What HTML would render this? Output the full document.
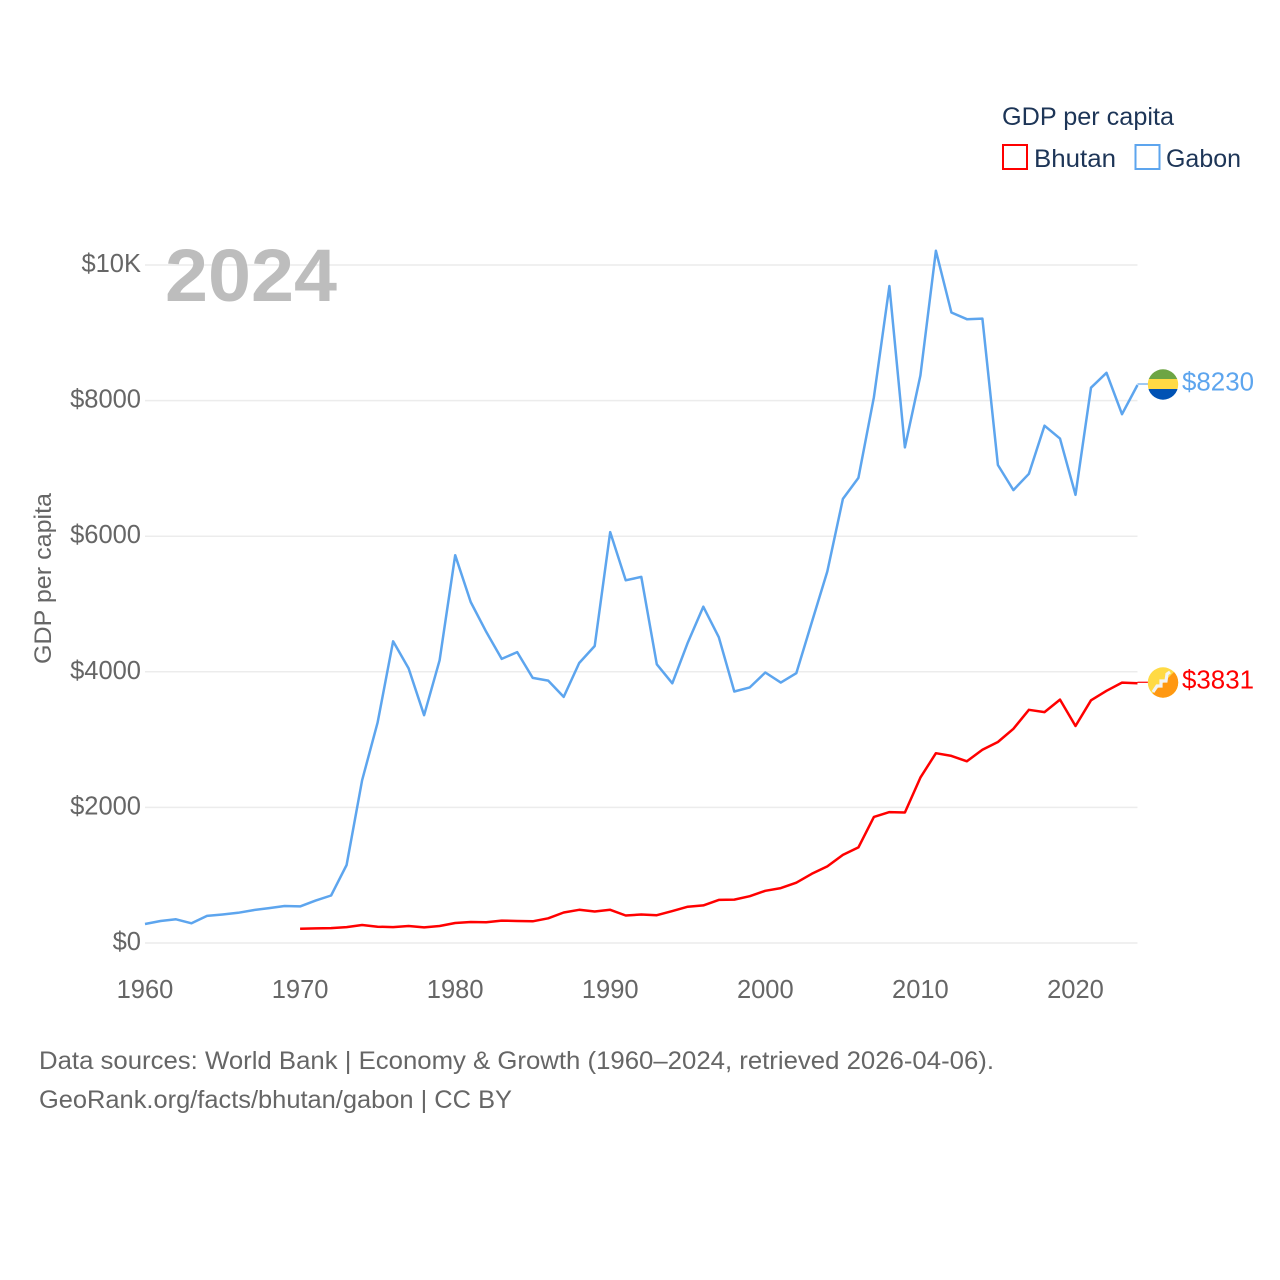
<!DOCTYPE html>
<html lang="en">
<head>
<meta charset="utf-8">
<title>GDP per capita: Bhutan and Gabon</title>
<style>
html,body{margin:0;padding:0;background:#fff;width:1280px;height:1280px;overflow:hidden}
svg{display:block;font-family:"Liberation Sans",sans-serif}
</style>
</head>
<body>
<svg id="chart" width="1280" height="1280" viewBox="0 0 1280 1280" xmlns="http://www.w3.org/2000/svg">
  <g id="grid"></g>
  <g id="ytick-labels"></g>
  <g id="xtick-labels"></g>
  <text x="165" y="301" font-size="74" font-weight="700" fill="#bdbdbd" textLength="172" lengthAdjust="spacingAndGlyphs">2024</text>
  <text transform="translate(51,578.5) rotate(-90)" text-anchor="middle" font-size="24" fill="#666" textLength="171" lengthAdjust="spacingAndGlyphs">GDP per capita</text>
  <g id="series"></g>

  <g>
    <clipPath id="clip-gabon"><circle cx="1163" cy="384.5" r="15.2"/></clipPath>
    <g clip-path="url(#clip-gabon)">
      <rect x="1147" y="369" width="32" height="10" fill="#6da544"/>
      <rect x="1147" y="379" width="32" height="10" fill="#ffda44"/>
      <rect x="1147" y="389" width="32" height="11" fill="#0052b4"/>
    </g>
  </g>
  <g>
    <clipPath id="clip-bhutan"><circle cx="1163" cy="682.5" r="15.2"/></clipPath>
    <g clip-path="url(#clip-bhutan)">
      <rect x="1147" y="667" width="32" height="32" fill="#ffda44"/>
      <polygon points="1179,667 1179,699 1147,699" fill="#ff9811"/>
      <path d="M1153 692 L1157 686 L1161 686 L1161 681 L1166 681 L1167 674 L1170 672" fill="none" stroke="#f3f3f3" stroke-width="3.2"/>
    </g>
  </g>
  <text id="label-gabon" x="1182" y="390.5" font-size="26" fill="#5da5ee" textLength="72" lengthAdjust="spacingAndGlyphs"></text>
  <text id="label-bhutan" x="1182" y="688.7" font-size="26" fill="#ff0000" textLength="72" lengthAdjust="spacingAndGlyphs"></text>

  <g>
    <text x="1002" y="125" font-size="25" fill="#1d3557" textLength="172" lengthAdjust="spacingAndGlyphs">GDP per capita</text>
    <g>
      <rect x="1003" y="145" width="24" height="24" fill="none" stroke="#ff0000" stroke-width="2"/>
      <text x="1034" y="167" font-size="25" fill="#1d3557" textLength="82" lengthAdjust="spacingAndGlyphs">Bhutan</text>
    </g>
    <g>
      <rect x="1135.5" y="145" width="24" height="24" fill="none" stroke="#5da5ee" stroke-width="2"/>
      <text x="1166" y="167" font-size="25" fill="#1d3557" textLength="75" lengthAdjust="spacingAndGlyphs">Gabon</text>
    </g>
  </g>

  <text x="39" y="1069" font-size="25" fill="#666" textLength="955" lengthAdjust="spacingAndGlyphs">Data sources: World Bank | Economy &amp; Growth (1960–2024, retrieved 2026-04-06).</text>
  <text x="39" y="1108" font-size="25" fill="#666" textLength="473" lengthAdjust="spacingAndGlyphs">GeoRank.org/facts/bhutan/gabon | CC BY</text>
</svg>
<script>
const years = [1960,1961,1962,1963,1964,1965,1966,1967,1968,1969,1970,1971,1972,1973,1974,1975,1976,1977,1978,1979,1980,1981,1982,1983,1984,1985,1986,1987,1988,1989,1990,1991,1992,1993,1994,1995,1996,1997,1998,1999,2000,2001,2002,2003,2004,2005,2006,2007,2008,2009,2010,2011,2012,2013,2014,2015,2016,2017,2018,2019,2020,2021,2022,2023,2024];
const gabonValues = [280,325,350,290,400,420,445,485,515,545,540,625,700,1150,2400,3250,4450,4050,3360,4170,5720,5030,4590,4190,4290,3910,3870,3630,4130,4380,6060,5350,5400,4110,3830,4430,4960,4510,3710,3770,3990,3840,3980,4730,5480,6550,6860,8050,9690,7310,8370,10210,9300,9200,9210,7050,6680,6920,7630,7440,6610,8190,8410,7800,8230];
const bhutanValues = [null,null,null,null,null,null,null,null,null,null,210,215,220,235,265,240,235,250,230,250,295,310,305,330,325,320,365,450,490,465,490,405,420,410,470,535,555,635,640,690,770,810,890,1020,1130,1300,1410,1860,1930,1925,2440,2800,2760,2680,2850,2965,3160,3440,3405,3590,3200,3580,3720,3840,3831];
const yTickValues = [0,2000,4000,6000,8000,10000];
const yTickLabels = ["$0","$2000","$4000","$6000","$8000","$10K"];
const xTickValues = [1960,1970,1980,1990,2000,2010,2020];

const NS = "http://www.w3.org/2000/svg";
const xLeft = 145, xRight = 1137.5, yZero = 943, yTen = 265;
function xScale(year){ return xLeft + (year - 1960) * (xRight - xLeft) / 64; }
function yScale(value){ return yZero - value * (yZero - yTen) / 10000; }
function make(tag, parent, attrs){
  const el = document.createElementNS(NS, tag);
  for (const k in attrs) el.setAttribute(k, attrs[k]);
  parent.appendChild(el);
  return el;
}
const gridGroup = document.getElementById("grid");
const yGroup = document.getElementById("ytick-labels");
const xGroup = document.getElementById("xtick-labels");
const seriesGroup = document.getElementById("series");

yTickValues.forEach(function(v, i){
  const line = make("line", gridGroup, {x1:xLeft, x2:xRight, y1:yScale(v), y2:yScale(v), stroke:"#ececec", "stroke-width":1.5});
  
  
  const t = make("text", yGroup, {x:141, y:yScale(v)+7, "text-anchor":"end", "font-size":25.5, fill:"#666"});
  t.textContent = yTickLabels[i];
  
  
});
xTickValues.forEach(function(v){
  const t = make("text", xGroup, {x:xScale(v), y:998, "text-anchor":"middle", "font-size":25.5, fill:"#666"});
  t.textContent = String(v);
  
  
});
function pathFor(values){
  let d = "", started = false;
  values.forEach(function(v, i){
    if (v === null) return;
    d += (started ? "L" : "M") + xScale(years[i]).toFixed(1) + " " + yScale(v).toFixed(1);
    started = true;
  });
  return d;
}
const gabonLine = make("path", seriesGroup, {d:pathFor(gabonValues), fill:"none", stroke:"#5da5ee", "stroke-width":2.5, "stroke-linejoin":"round"});


const bhutanLine = make("path", seriesGroup, {d:pathFor(bhutanValues), fill:"none", stroke:"#ff0000", "stroke-width":2.5, "stroke-linejoin":"round"});



const gabonLast = gabonValues[gabonValues.length - 1];
const bhutanLast = bhutanValues[bhutanValues.length - 1];
const gabonLeader = make("line", seriesGroup, {x1:xRight, x2:1148, y1:yScale(gabonLast)-1, y2:yScale(gabonLast)-1, stroke:"#5da5ee", "stroke-width":1.2});


const bhutanLeader = make("line", seriesGroup, {x1:xRight, x2:1148, y1:yScale(bhutanLast)-1, y2:yScale(bhutanLast)-1, stroke:"#ff0000", "stroke-width":1.2});


document.getElementById("label-gabon").textContent = "$" + gabonLast;
document.getElementById("label-bhutan").textContent = "$" + bhutanLast;
</script>
</body>
</html>
